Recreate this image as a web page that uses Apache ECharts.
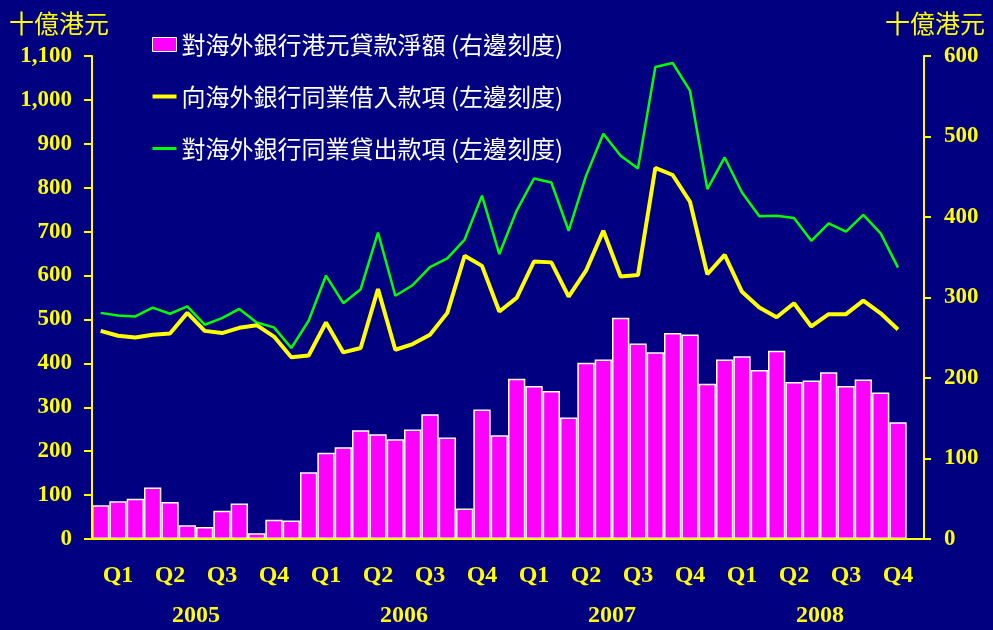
<!DOCTYPE html>
<html>
<head>
<meta charset="utf-8">
<script src="https://cdn.jsdelivr.net/npm/echarts@6/dist/echarts.min.js"></script>
<style>
  html, body { margin: 0; padding: 0; background: #000080; }
  #chart1 { width: 993px; height: 630px; }
</style>
</head>
<body>
<div id="chart1"></div>
<script>
// 2005-01 .. 2008-12, one category per month
var months = []
;['2005', '2006', '2007', '2008'].forEach(function (y) {
  for (var m = 1; m <= 12; m++) months.push(y + '-' + (m < 10 ? '0' + m : m))
})
var quarters = ['Q1', 'Q2', 'Q3', 'Q4', 'Q1', 'Q2', 'Q3', 'Q4', 'Q1', 'Q2', 'Q3', 'Q4', 'Q1', 'Q2', 'Q3', 'Q4']
var years = ['2005', '2006', '2007', '2008']

// 對海外銀行港元貸款淨額 (right scale)
var netLoans = [42, 47, 50, 64, 46, 17, 15, 35, 44, 7, 24, 23,
  83, 107, 114, 135, 130, 124, 136, 155, 126, 38, 161, 129,
  199, 190, 184, 151, 219, 223, 275, 243, 232, 256, 254, 193,
  223, 227, 210, 234, 195, 197, 207, 190, 198, 182, 145, null]
// 向海外銀行同業借入款項 (left scale)
var borrowed = [474, 463, 459, 465, 468, 515, 474, 469, 481, 487, 461, 414,
  418, 493, 425, 435, 569, 431, 444, 465, 515, 645, 622, 518,
  549, 632, 630, 552, 611, 702, 598, 601, 845, 829, 768, 603,
  647, 563, 527, 505, 537, 484, 512, 512, 543, 514, 477, null]
// 對海外銀行同業貸出款項 (left scale)
var lent = [515, 509, 507, 527, 513, 530, 488, 503, 524, 493, 482, 435,
  497, 600, 537, 569, 698, 554, 578, 619, 639, 682, 782, 649,
  748, 821, 812, 702, 827, 923, 873, 844, 1075, 1084, 1021, 797,
  869, 789, 735, 736, 731, 679, 719, 700, 738, 696, 618, null]

var names = ['對海外銀行港元貸款淨額 (右邊刻度)', '向海外銀行同業借入款項 (左邊刻度)', '對海外銀行同業貸出款項 (左邊刻度)']

var yellow = '#FFFF00'
var numFont = { color: yellow, fontFamily: 'Liberation Serif', fontWeight: 'bold', fontSize: 23 }

var chart = echarts.init(document.getElementById('chart1'))
chart.setOption({
  backgroundColor: '#000080',
  animation: false,
  title: [{
    text: '十億港元', left: 4, top: 6,
    textStyle: { color: yellow, fontSize: 25, fontWeight: 'normal', fontFamily: 'Noto Sans CJK TC' }
  }, {
    text: '十億港元', right: 3, top: 6,
    textStyle: { color: yellow, fontSize: 25, fontWeight: 'normal', fontFamily: 'Noto Sans CJK TC' }
  }],
  legend: {
    orient: 'vertical',
    left: 147,
    top: 27,
    itemGap: 27,
    itemWidth: 24,
    itemHeight: 14,
    itemTextGap: 7,
    data: [
      { name: names[0], icon: 'rect', itemStyle: { borderColor: '#FFFFFF', borderWidth: 1 } },
      { name: names[1], icon: 'path://M0,0L24,0L24,4L0,4Z' },
      { name: names[2], icon: 'path://M0,0L24,0L24,3L0,3Z' }
    ],
    textStyle: { color: '#FFFFFF', fontSize: 24, lineHeight: 25, fontFamily: 'Noto Sans CJK TC' }
  },
  grid: { left: 92, right: 69, top: 56, bottom: 91 },
  xAxis: [{
    type: 'category',
    data: months,
    boundaryGap: true,
    z: 10,
    axisLine: { lineStyle: { color: yellow, width: 2 } },
    axisTick: { interval: 0, length: 6, lineStyle: { color: yellow, width: 2 } },
    axisLabel: { show: false }
  }, {
    type: 'category',
    data: quarters,
    position: 'bottom',
    axisLine: { show: false },
    axisTick: { show: false },
    axisLabel: Object.assign({ margin: 25, interval: 0 }, numFont, { fontSize: 24 })
  }, {
    type: 'category',
    data: years,
    position: 'bottom',
    z: 10,
    axisLine: { show: false },
    axisTick: { length: 8, lineStyle: { color: yellow, width: 2 } },
    axisLabel: Object.assign({ margin: 65, interval: 0 }, numFont, { fontSize: 24 })
  }, {
    type: 'category',
    data: years,
    position: 'bottom',
    z: 10,
    axisLine: { show: false },
    axisTick: { inside: true, length: 9, lineStyle: { color: yellow, width: 2 } },
    axisLabel: { show: false }
  }],
  yAxis: [{
    type: 'value',
    min: 0, max: 1100, interval: 100,
    z: 10,
    axisLine: { show: true, lineStyle: { color: yellow, width: 2 } },
    axisTick: { show: true, length: 8, lineStyle: { color: yellow, width: 2 } },
    splitLine: { show: false },
    axisLabel: Object.assign({
      margin: 20,
      formatter: function (v) { return v >= 1000 ? Math.floor(v / 1000) + ',' + String(v % 1000).padStart(3, '0') : v }
    }, numFont)
  }, {
    type: 'value',
    min: 0, max: 600, interval: 100,
    position: 'right',
    z: 10,
    axisLine: { show: true, lineStyle: { color: yellow, width: 2 } },
    axisTick: { show: true, length: 7, lineStyle: { color: yellow, width: 2 } },
    splitLine: { show: false },
    axisLabel: Object.assign({ margin: 20 }, numFont)
  }],
  series: [{
    name: names[0],
    type: 'bar',
    yAxisIndex: 1,
    barCategoryGap: 0,
    data: netLoans,
    itemStyle: { color: '#FF00FF', borderColor: '#FFFFFF', borderWidth: 1.5 }
  }, {
    name: names[1],
    type: 'line',
    data: borrowed,
    symbol: 'none',
    z: 4,
    lineStyle: { color: yellow, width: 4 },
    itemStyle: { color: yellow }
  }, {
    name: names[2],
    type: 'line',
    data: lent,
    symbol: 'none',
    z: 3,
    lineStyle: { color: '#00FF00', width: 2.5 },
    itemStyle: { color: '#00FF00' }
  }]
})
</script>
</body>
</html>
